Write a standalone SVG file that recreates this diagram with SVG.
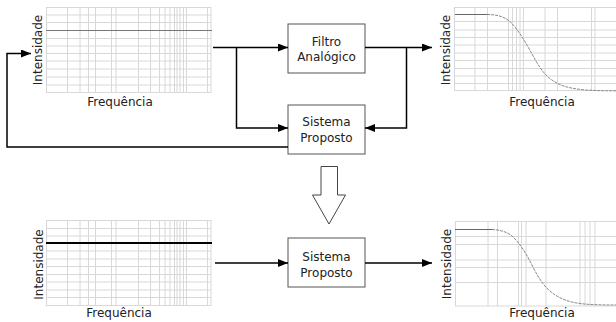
<svg xmlns="http://www.w3.org/2000/svg" width="616" height="322" viewBox="0 0 616 322">
<defs>
<style>
.g{stroke:#d8d8d8;stroke-width:1;fill:none}
.t{font-family:"DejaVu Sans",Verdana,sans-serif;font-size:12px;fill:#222}
.c{font-family:"DejaVu Sans",Verdana,sans-serif;font-size:12px;fill:#222;text-anchor:middle}
.box{fill:#fff;stroke:#555;stroke-width:1}
.w{stroke:#000;stroke-width:1.5;fill:none}
</style>
<marker id="ah" viewBox="0 0 10 8" refX="10" refY="4" markerWidth="10" markerHeight="8" markerUnits="userSpaceOnUse" orient="auto">
<path d="M0,0 L10,4 L0,8 Z" fill="#000"/>
</marker>
</defs>

<g id="graph-in-top">
<path class="g" d="M46,7.5H211M46,15H211M46,22.5H211M46,38.5H211M46,46H211M46,53.5H211M46,61H211M46,69H211M46,77H211M46,85H211M46,92.5H211M46.5,7V93M67.5,7V93M80,7V93M88.5,7V93M95.5,7V93M111.5,7V93M116,7V93M138.5,7V93M150.5,7V93M159.5,7V93M165,7V93M170,7V93M174.5,7V93M177,7V93M180,7V93M183.5,7V93M186.5,7V93M207.5,7V93M211,7V93"/>
<path d="M46,30.5H212" stroke="#777" stroke-width="1"/>
<text class="t" transform="translate(42,50) rotate(-90)" text-anchor="middle">Intensidade</text>
<text class="t" x="120" y="106" text-anchor="middle">Frequência</text>
</g>

<g id="graph-out-top">
<path class="g" d="M454,7.5H616M454,21.5H616M454,30H616M454,37.5H616M454,45H616M454,53H616M454,60.5H616M454,68.5H616M454,76H616M454,83.5H616M454,90.5H616M454.5,7V91M475,7V91M487.5,7V91M508.5,7V91M512.5,7V91M516.5,7V91M520,7V91M523.5,7V91M545,7V91M557.5,7V91M591.5,7V91M595,7V91"/>
<path d="M455,14.5H487" stroke="#666" stroke-width="1" fill="none"/>
<path d="M487,14.5 C500,14.5 508,18 515,27 C522,36 527,45 532,54 C538,65 544,75 552,80 C560,86 570,88.5 585,90 C598,90.8 608,90.8 616,90.8" stroke="#888" stroke-width="1" fill="none" stroke-dasharray="3,1"/>
<text class="t" transform="translate(450,50) rotate(-90)" text-anchor="middle">Intensidade</text>
<text class="t" x="542" y="106" text-anchor="middle">Frequência</text>
</g>

<g id="graph-in-bottom">
<path class="g" d="M46,220.5H211M46,228.5H211M46,236H211M46,251H211M46,259H211M46,266.5H211M46,274.5H211M46,282H211M46,290H211M46,297.5H211M46,305.5H211M46.5,220V306M67.5,220V306M80,220V306M88.5,220V306M95.5,220V306M111.5,220V306M116,220V306M138.5,220V306M150.5,220V306M159.5,220V306M165,220V306M170,220V306M174.5,220V306M177,220V306M180,220V306M183.5,220V306M186.5,220V306M207.5,220V306M211,220V306"/>
<path d="M46,243H212" stroke="#000" stroke-width="2"/>
<text class="t" transform="translate(43,264.5) rotate(-90)" text-anchor="middle">Intensidade</text>
<text class="t" x="119" y="317" text-anchor="middle">Frequência</text>
</g>

<g id="graph-out-bottom">
<path class="g" d="M455,221.5H616M455,236.5H616M455,244.5H616M455,260H616M455,267.5H616M455,282.5H616M455,306H616M455.5,221V306M488,221V306M497.5,221V306M518.5,221V306M521.5,221V306M526,221V306M546,221V306M580,221V306M585,221V306M590,221V306M595,221V306"/>
<path d="M455,229.5H492" stroke="#666" stroke-width="1" fill="none"/>
<path d="M492,229.5 C503,230 510,233 516,240 C523,248 528,257 533,267 C538,277 543,285 550,291 C558,298 568,302 580,303.5 C592,305 604,305 616,305" stroke="#888" stroke-width="1" fill="none" stroke-dasharray="3,1"/>
<text class="t" transform="translate(451,264) rotate(-90)" text-anchor="middle">Intensidade</text>
<text class="t" x="542" y="317" text-anchor="middle">Frequência</text>
</g>

<g id="filtro-analogico">
<rect class="box" x="288" y="24" width="77" height="49"/>
<text class="c" x="326.5" y="45.5">Filtro</text>
<text class="c" x="326.5" y="61">Analógico</text>
</g>

<g id="sistema-proposto-top">
<rect class="box" x="288" y="105" width="77" height="49"/>
<text class="c" x="326.5" y="126">Sistema</text>
<text class="c" x="326.5" y="141.5">Proposto</text>
</g>

<g id="sistema-proposto-bottom">
<rect class="box" x="288" y="238" width="77" height="49"/>
<text class="c" x="326.5" y="261">Sistema</text>
<text class="c" x="326.5" y="276.5">Proposto</text>
</g>

<g id="transform-arrow">
<path d="M321,166.5 H337.5 V195 H345.5 L329,224 L312.5,195 H321 Z" fill="#fff" stroke="#444" stroke-width="1"/>
</g>

<g id="connectors">
<path class="w" d="M213,47.5 H288" marker-end="url(#ah)"/>
<path class="w" d="M236.5,47.5 V128 H288" marker-end="url(#ah)"/>
<path class="w" d="M365,47.5 H432" marker-end="url(#ah)"/>
<path class="w" d="M406.5,47.5 V128 H365" marker-end="url(#ah)"/>
<path class="w" d="M288,147 H7 V53.5 H31" marker-end="url(#ah)"/>
<path class="w" d="M215,263 H288" marker-end="url(#ah)"/>
<path class="w" d="M365,263 H432" marker-end="url(#ah)"/>
</g>
</svg>
